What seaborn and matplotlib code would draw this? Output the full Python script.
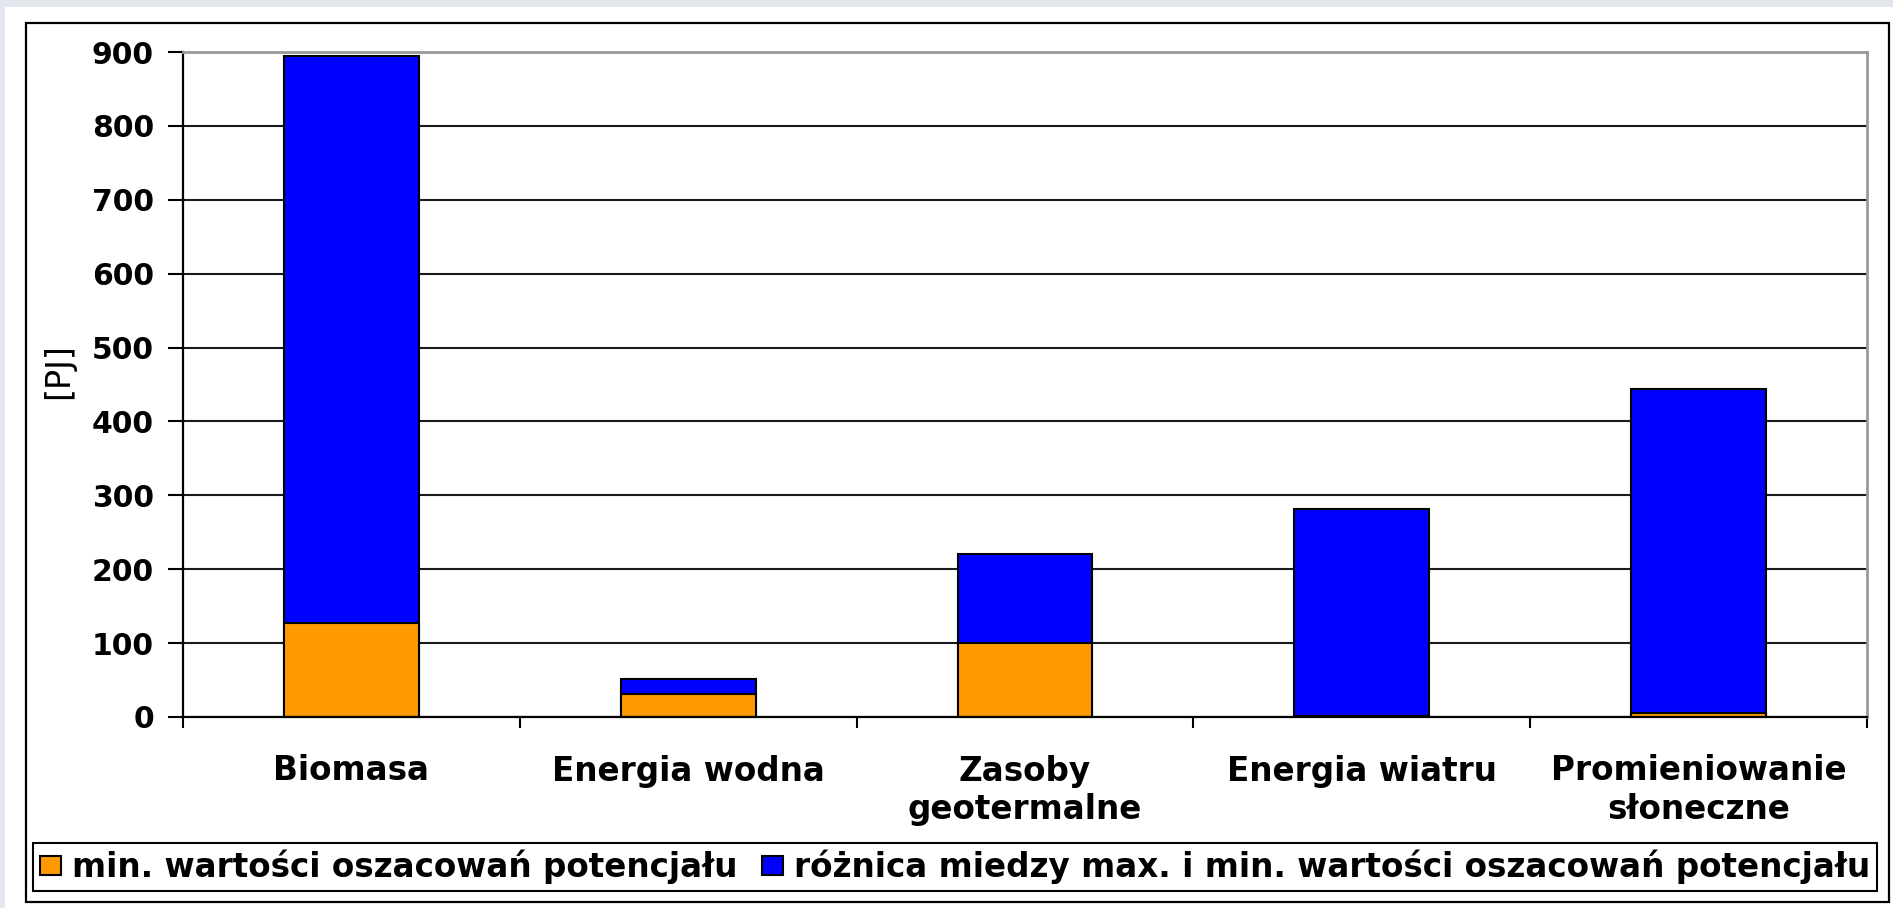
import matplotlib
matplotlib.use("Agg")
import matplotlib.pyplot as plt
import matplotlib.patches as mpatches
import seaborn as sns

categories = ["Biomasa", "Energia wodna", "Zasoby\ngeotermalne",
              "Energia wiatru", "Promieniowanie\nsłoneczne"]
min_vals = [127, 31, 100, 2, 6]
max_vals = [895, 52, 220, 281, 444]
yticks = [0, 100, 200, 300, 400, 500, 600, 700, 800, 900]
legend_labels = ["min. wartości oszacowań potencjału",
                 "różnica miedzy max. i min. wartości oszacowań potencjału"]

ORANGE = "#ff9900"
BLUE = "#0000ff"

sns.set_style("white")
plt.rcParams["font.family"] = ["DejaVu Sans"]
plt.rcParams["text.color"] = "black"
plt.rcParams["axes.labelcolor"] = "black"
plt.rcParams["xtick.color"] = "black"
plt.rcParams["ytick.color"] = "black"

W, H = 1893, 908
fig = plt.figure(figsize=(W / 100, H / 100), dpi=100)
fig.patch.set_facecolor("white")

# light background strips outside the chart frame
fig.patches.append(mpatches.Rectangle((0, 1 - 7 / H), 1, 7 / H, transform=fig.transFigure,
                                      facecolor="#e3e7ed", edgecolor="none", zorder=-3))
fig.patches.append(mpatches.Rectangle((0, 0), 5 / W, 1, transform=fig.transFigure,
                                      facecolor="#e3e7ed", edgecolor="none", zorder=-3))
# outer chart frame
fig.patches.append(mpatches.Rectangle((26 / W, 1 - 902 / H), (1889 - 26) / W, (902 - 23) / H,
                                      transform=fig.transFigure, facecolor="white",
                                      edgecolor="black", linewidth=1.6, zorder=-2))

ax = fig.add_axes([183 / W, 1 - 717 / H, (1867 - 183) / W, (717 - 52) / H])

# max value bar drawn first, min value bar on top of it
sns.barplot(x=categories, y=max_vals, color=BLUE, saturation=1, width=0.4,
            edgecolor="black", linewidth=1.5, errorbar=None, ax=ax)
sns.barplot(x=categories, y=min_vals, color=ORANGE, saturation=1, width=0.4,
            edgecolor="black", linewidth=1.5, errorbar=None, ax=ax)

ax.set_ylim(0, 900)
ax.set_xlim(-0.5, len(categories) - 0.5)
ax.set_yticks(yticks)
ax.set_yticklabels([str(t) for t in yticks], fontsize=21.5, fontweight="bold")
ax.set_xticks(range(len(categories)))
ax.set_xticklabels(categories, fontsize=23.5, fontweight="bold")
ax.set_xticks([i - 0.5 for i in range(len(categories) + 1)], minor=True)

ax.set_axisbelow(True)
ax.yaxis.grid(True, color="#1a1a1a", linewidth=1.5)
ax.xaxis.grid(False)

ax.tick_params(axis="y", which="major", direction="out", length=11, width=1.5,
               color="black", pad=10, left=True)
ax.tick_params(axis="x", which="major", length=0, pad=27)
ax.tick_params(axis="x", which="minor", direction="out", length=8, width=1.5,
               color="black", bottom=True)

for side in ["left", "bottom"]:
    ax.spines[side].set_color("black")
    ax.spines[side].set_linewidth(1.6)
for side in ["top", "right"]:
    ax.spines[side].set_color("#9a9a9a")
    ax.spines[side].set_linewidth(2)

ax.set_xlabel("")
ax.set_ylabel("[PJ]", fontsize=24)
ax.yaxis.set_label_coords(-0.064, 0.52)

handles = [mpatches.Patch(facecolor=ORANGE, edgecolor="black", linewidth=1.5),
           mpatches.Patch(facecolor=BLUE, edgecolor="black", linewidth=1.5)]
leg = fig.legend(handles, legend_labels, loc="center", ncol=2, mode="expand",
                 bbox_to_anchor=(33 / W, 1 - 892 / H, (1877 - 33) / W, 50 / H),
                 bbox_transform=fig.transFigure,
                 prop={"size": 23.5, "weight": "bold"},
                 frameon=True, fancybox=False, framealpha=1, edgecolor="black",
                 handlelength=0.65, handleheight=0.5, handletextpad=0.35,
                 columnspacing=0.4, borderaxespad=0, borderpad=0.2)
leg.get_frame().set_linewidth(1.5)

fig.savefig("out.png", dpi=100, facecolor=fig.get_facecolor())
